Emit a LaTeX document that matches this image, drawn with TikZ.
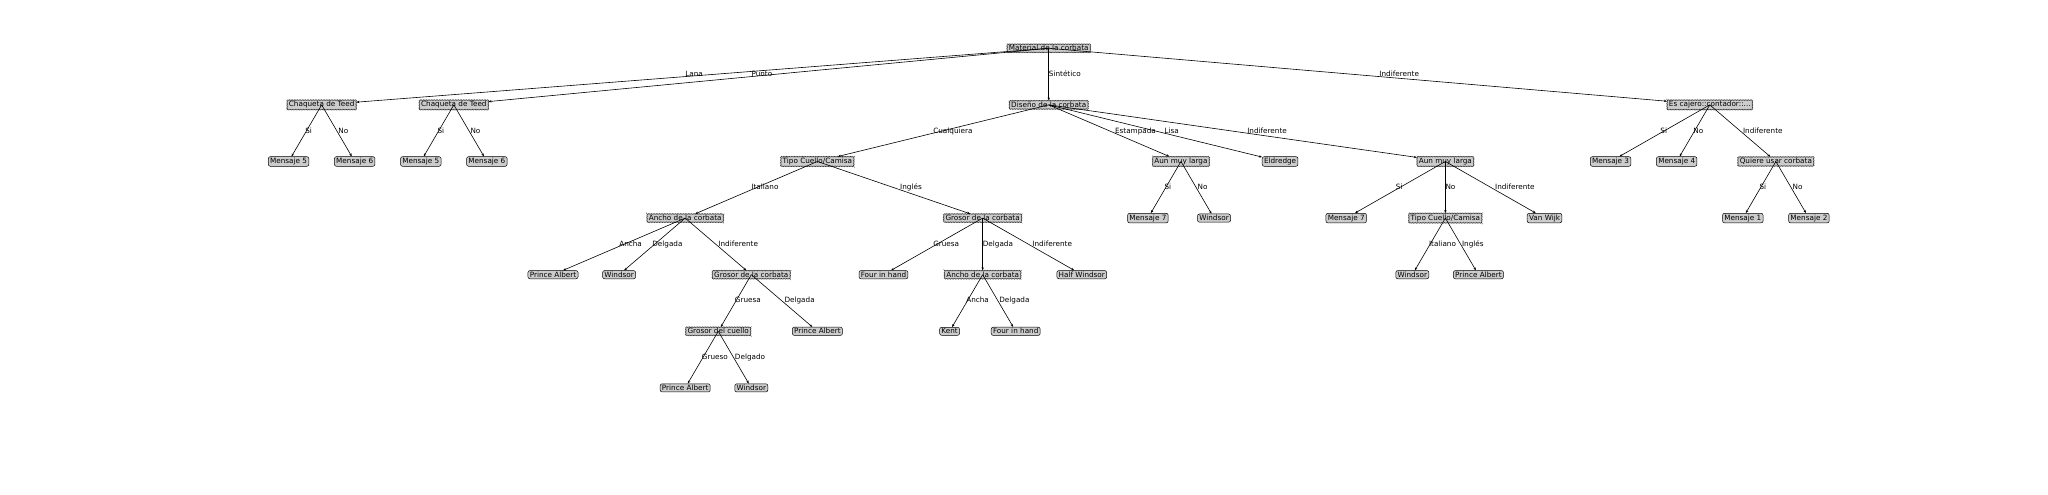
\documentclass[tikz,border=0pt]{standalone}
\usepackage{fontspec}
\setmainfont{DejaVu Sans}
\usepackage{tikz}
\usetikzlibrary{arrows.meta, decorations.pathmorphing}

\begin{document}
\begin{tikzpicture}[
        x=66.1pt, y=-56.6pt,
        decision/.style={draw=black!80, fill=black!20, line width=0.4pt, decorate, decoration={zigzag, segment length=1.6pt, amplitude=0.45pt}, inner xsep=1.8pt, inner ysep=1.3pt, font=\fontsize{7.25}{8}\selectfont},
        leaf/.style={draw, fill=black!20, rounded corners=2pt, line width=0.5pt, inner xsep=1.8pt, inner ysep=1.3pt, font=\fontsize{7.25}{8}\selectfont},
        lbl/.style={anchor=base west, inner sep=0pt, font=\fontsize{7.25}{8}\selectfont},
        edge/.style={->, line width=0.6pt},
        >={Stealth[length=3pt,width=2.4pt]}
    ]
        \useasboundingbox (-4.366,-0.853) rectangle (26.617,7.875);
        % Nivel 0 y 1
        \node[decision] (M) at (11.5,0) {Material de la corbata};
        \node[decision] (C1) at (0.5,1) {Chaqueta de Teed};
        \node[decision] (C2) at (2.5,1) {Chaqueta de Teed};
        \node[decision] (D) at (11.5,1) {Diseño de la corbata};
        \node[decision] (E) at (21.5,1) {Es cajero::contador::...};
        % Nivel 2
        \node[leaf] (M5a) at (0,2) {Mensaje 5};
        \node[leaf] (M6a) at (1,2) {Mensaje 6};
        \node[leaf] (M5b) at (2,2) {Mensaje 5};
        \node[leaf] (M6b) at (3,2) {Mensaje 6};
        \node[decision] (T1) at (8,2) {Tipo Cuello/Camisa};
        \node[decision] (A1) at (13.5,2) {Aun muy larga};
        \node[leaf] (Eld) at (15,2) {Eldredge};
        \node[decision] (A2) at (17.5,2) {Aun muy larga};
        \node[leaf] (M3) at (20,2) {Mensaje 3};
        \node[leaf] (M4) at (21,2) {Mensaje 4};
        \node[decision] (Q) at (22.5,2) {Quiere usar corbata};
        % Nivel 3
        \node[decision] (W1) at (6,3) {Ancho de la corbata};
        \node[decision] (G1) at (10.5,3) {Grosor de la corbata};
        \node[leaf] (M7a) at (13,3) {Mensaje 7};
        \node[leaf] (Wa) at (14,3) {Windsor};
        \node[leaf] (M7b) at (16,3) {Mensaje 7};
        \node[decision] (T2) at (17.5,3) {Tipo Cuello/Camisa};
        \node[leaf] (VW) at (19,3) {Van Wijk};
        \node[leaf] (M1) at (22,3) {Mensaje 1};
        \node[leaf] (M2) at (23,3) {Mensaje 2};
        % Nivel 4
        \node[leaf] (PAa) at (4,4) {Prince Albert};
        \node[leaf] (Wb) at (5,4) {Windsor};
        \node[decision] (G2) at (7,4) {Grosor de la corbata};
        \node[leaf] (FHa) at (9,4) {Four in hand};
        \node[decision] (W2) at (10.5,4) {Ancho de la corbata};
        \node[leaf] (HW) at (12,4) {Half Windsor};
        \node[leaf] (Wc) at (17,4) {Windsor};
        \node[leaf] (PAb) at (18,4) {Prince Albert};
        % Nivel 5 y 6
        \node[decision] (G3) at (6.5,5) {Grosor del cuello};
        \node[leaf] (PAc) at (8,5) {Prince Albert};
        \node[leaf] (Kent) at (10,5) {Kent};
        \node[leaf] (FHb) at (11,5) {Four in hand};
        \node[leaf] (PAd) at (6,6) {Prince Albert};
        \node[leaf] (Wd) at (7,6) {Windsor};
        % Flechas desde el centro del padre
        \draw[edge] (M.center) -- (C1);
        \path (M.center) -- node[lbl] {Lana} (C1.center);
        \draw[edge] (M.center) -- (C2);
        \path (M.center) -- node[lbl] {Punto} (C2.center);
        \draw[edge] (M.center) -- (D);
        \path (M.center) -- node[lbl] {Sintético} (D.center);
        \draw[edge] (M.center) -- (E);
        \path (M.center) -- node[lbl] {Indiferente} (E.center);
        \draw[edge] (C1.center) -- (M5a);
        \path (C1.center) -- node[lbl] {Si} (M5a.center);
        \draw[edge] (C1.center) -- (M6a);
        \path (C1.center) -- node[lbl] {No} (M6a.center);
        \draw[edge] (C2.center) -- (M5b);
        \path (C2.center) -- node[lbl] {Si} (M5b.center);
        \draw[edge] (C2.center) -- (M6b);
        \path (C2.center) -- node[lbl] {No} (M6b.center);
        \draw[edge] (D.center) -- (T1);
        \path (D.center) -- node[lbl] {Cualquiera} (T1.center);
        \draw[edge] (D.center) -- (A1);
        \path (D.center) -- node[lbl] {Estampada} (A1.center);
        \draw[edge] (D.center) -- (Eld);
        \path (D.center) -- node[lbl] {Lisa} (Eld.center);
        \draw[edge] (D.center) -- (A2);
        \path (D.center) -- node[lbl] {Indiferente} (A2.center);
        \draw[edge] (E.center) -- (M3);
        \path (E.center) -- node[lbl] {Si} (M3.center);
        \draw[edge] (E.center) -- (M4);
        \path (E.center) -- node[lbl] {No} (M4.center);
        \draw[edge] (E.center) -- (Q);
        \path (E.center) -- node[lbl] {Indiferente} (Q.center);
        \draw[edge] (T1.center) -- (W1);
        \path (T1.center) -- node[lbl] {Italiano} (W1.center);
        \draw[edge] (T1.center) -- (G1);
        \path (T1.center) -- node[lbl] {Inglés} (G1.center);
        \draw[edge] (A1.center) -- (M7a);
        \path (A1.center) -- node[lbl] {Si} (M7a.center);
        \draw[edge] (A1.center) -- (Wa);
        \path (A1.center) -- node[lbl] {No} (Wa.center);
        \draw[edge] (A2.center) -- (M7b);
        \path (A2.center) -- node[lbl] {Si} (M7b.center);
        \draw[edge] (A2.center) -- (T2);
        \path (A2.center) -- node[lbl] {No} (T2.center);
        \draw[edge] (A2.center) -- (VW);
        \path (A2.center) -- node[lbl] {Indiferente} (VW.center);
        \draw[edge] (Q.center) -- (M1);
        \path (Q.center) -- node[lbl] {Si} (M1.center);
        \draw[edge] (Q.center) -- (M2);
        \path (Q.center) -- node[lbl] {No} (M2.center);
        \draw[edge] (W1.center) -- (PAa);
        \path (W1.center) -- node[lbl] {Ancha} (PAa.center);
        \draw[edge] (W1.center) -- (Wb);
        \path (W1.center) -- node[lbl] {Delgada} (Wb.center);
        \draw[edge] (W1.center) -- (G2);
        \path (W1.center) -- node[lbl] {Indiferente} (G2.center);
        \draw[edge] (G1.center) -- (FHa);
        \path (G1.center) -- node[lbl] {Gruesa} (FHa.center);
        \draw[edge] (G1.center) -- (W2);
        \path (G1.center) -- node[lbl] {Delgada} (W2.center);
        \draw[edge] (G1.center) -- (HW);
        \path (G1.center) -- node[lbl] {Indiferente} (HW.center);
        \draw[edge] (T2.center) -- (Wc);
        \path (T2.center) -- node[lbl] {Italiano} (Wc.center);
        \draw[edge] (T2.center) -- (PAb);
        \path (T2.center) -- node[lbl] {Inglés} (PAb.center);
        \draw[edge] (G2.center) -- (G3);
        \path (G2.center) -- node[lbl] {Gruesa} (G3.center);
        \draw[edge] (G2.center) -- (PAc);
        \path (G2.center) -- node[lbl] {Delgada} (PAc.center);
        \draw[edge] (W2.center) -- (Kent);
        \path (W2.center) -- node[lbl] {Ancha} (Kent.center);
        \draw[edge] (W2.center) -- (FHb);
        \path (W2.center) -- node[lbl] {Delgada} (FHb.center);
        \draw[edge] (G3.center) -- (PAd);
        \path (G3.center) -- node[lbl] {Grueso} (PAd.center);
        \draw[edge] (G3.center) -- (Wd);
        \path (G3.center) -- node[lbl] {Delgado} (Wd.center);
    \end{tikzpicture}
\end{document}
